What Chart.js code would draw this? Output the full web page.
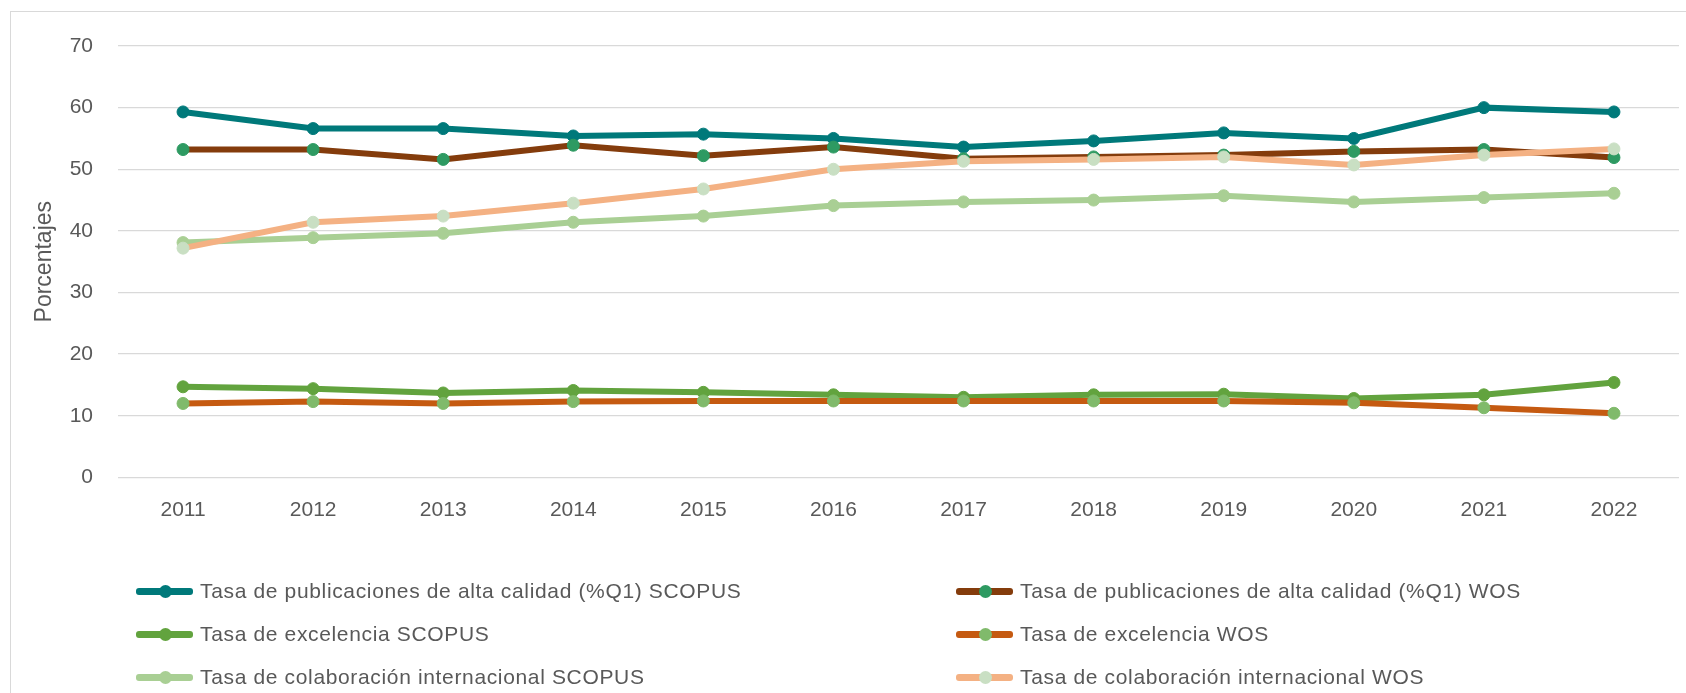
<!DOCTYPE html>
<html lang="es">
<head>
<meta charset="utf-8">
<title>Tasas de publicación SCOPUS / WOS</title>
<script src="https://cdn.jsdelivr.net/npm/chart.js@4.4.1/dist/chart.umd.min.js"></script>
<style>
  html, body { margin: 0; padding: 0; background: #fff; overflow: hidden; }
  #wrap { position: relative; width: 1686px; height: 693px; }
  #frame {
    position: absolute; left: 10px; top: 11px;
    width: 1700px; height: 700px;
    border: 1px solid #D9D9D9; box-sizing: border-box;
  }
  #chartBox { position: absolute; left: 0; top: 0; width: 1686px; height: 693px; }
  #legend { position: absolute; left: 0; top: 0; }
  .lg-item {
    position: absolute; display: flex; align-items: center; white-space: nowrap;
    font-family: "Liberation Sans", Arial, sans-serif; font-size: 21px;
    letter-spacing: 0.65px; color: #595959;
  }
  .lg-sym { position: relative; width: 57px; height: 14px; margin-right: 7px; }
  .lg-line { position: absolute; left: 0; right: 0; top: 3.5px; height: 7px; border-radius: 3px; }
  .lg-dot { position: absolute; left: 22.5px; top: 0.5px; width: 13px; height: 13px; border-radius: 50%; }
</style>
</head>
<body>
<div id="wrap">
  <div id="frame"></div>
  <div id="chartBox"><canvas id="rateChart"></canvas></div>
  <div id="legend"></div>
</div>
<script>
// Data
const years = ['2011', '2012', '2013', '2014', '2015', '2016', '2017', '2018', '2019', '2020', '2021', '2022'];
const q1Scopus = [59.3, 56.6, 56.6, 55.4, 55.7, 55.0, 53.6, 54.6, 55.9, 55.0, 60.0, 59.3];
const q1Wos = [53.2, 53.2, 51.6, 53.9, 52.2, 53.6, 51.7, 52.0, 52.3, 52.9, 53.2, 51.9];
const excelScopus = [14.7, 14.4, 13.7, 14.1, 13.8, 13.4, 13.0, 13.4, 13.5, 12.8, 13.4, 15.4];
const excelWos = [12.0, 12.3, 12.0, 12.3, 12.4, 12.4, 12.4, 12.4, 12.4, 12.1, 11.3, 10.4];
const colabScopus = [38.1, 38.9, 39.6, 41.4, 42.4, 44.1, 44.7, 45.0, 45.7, 44.7, 45.4, 46.1];
const colabWos = [37.2, 41.4, 42.4, 44.5, 46.8, 50.0, 51.3, 51.6, 52.0, 50.7, 52.3, 53.3];

const seriesNames = [
    'Tasa de publicaciones de alta calidad (%Q1) SCOPUS',
    'Tasa de publicaciones de alta calidad (%Q1) WOS',
    'Tasa de excelencia SCOPUS',
    'Tasa de excelencia WOS',
    'Tasa de colaboración internacional SCOPUS',
    'Tasa de colaboración internacional WOS'
];
const seriesValues = [q1Scopus, q1Wos, excelScopus, excelWos, colabScopus, colabWos];
const yTicks = [0, 10, 20, 30, 40, 50, 60, 70];

// Styles
const lineColors = ['#00797A', '#843C0C', '#62A33E', '#C55A11', '#A9CF94', '#F4B183'];
const markerColors = ['#00797A', '#2E9A62', '#62A33E', '#80BA6B', '#A9CF94', '#C9DFC3'];
const textGray = '#595959';
const font = '"Liberation Sans", Arial, sans-serif';

// Build datasets (later series drawn on top, as in Excel)
const datasets = seriesNames.map((name, i) => ({
    label: name,
    data: seriesValues[i],
    borderColor: lineColors[i],
    backgroundColor: markerColors[i],
    pointBackgroundColor: markerColors[i],
    pointBorderColor: markerColors[i],
    pointBorderWidth: 1,
    pointRadius: 6,
    borderWidth: 6,
    tension: 0,
    fill: false,
    order: seriesNames.length - i
}));

// HTML legend, two columns like the original
const legendPlugin = {
    id: 'htmlLegend',
    afterUpdate(chart) {
        const box = document.getElementById('legend');
        box.innerHTML = '';
        const colX = [136, 956];
        const rowY = [591, 634, 677];
        chart.data.datasets.forEach((ds, i) => {
            const item = document.createElement('div');
            item.className = 'lg-item';
            item.style.left = colX[i % 2] + 'px';
            item.style.top = (rowY[Math.floor(i / 2)] - 13) + 'px';
            item.style.height = '26px';
            const sym = document.createElement('span');
            sym.className = 'lg-sym';
            const line = document.createElement('span');
            line.className = 'lg-line';
            line.style.background = ds.borderColor;
            const dot = document.createElement('span');
            dot.className = 'lg-dot';
            dot.style.background = ds.pointBackgroundColor;
            sym.appendChild(line);
            sym.appendChild(dot);
            const txt = document.createElement('span');
            txt.textContent = ds.label;
            item.appendChild(sym);
            item.appendChild(txt);
            box.appendChild(item);
        });
    }
};

const ctx = document.getElementById('rateChart').getContext('2d');
new Chart(ctx, {
    type: 'line',
    data: { labels: years, datasets: datasets },
    options: {
        responsive: true,
        maintainAspectRatio: false,
        animation: false,
        layout: { padding: { top: 46, left: 0, right: 0, bottom: 155.6 } },
        plugins: {
            legend: { display: false },
            tooltip: { enabled: false }
        },
        scales: {
            x: {
                offset: true,
                grid: { display: false, drawTicks: false },
                border: { display: false },
                ticks: {
                    color: textGray,
                    font: { family: font, size: 21 },
                    padding: 20,
                    maxRotation: 0
                },
                afterFit(scale) { scale.height = 60; }
            },
            y: {
                min: 0,
                max: 70,
                afterBuildTicks(scale) { scale.ticks = yTicks.map(v => ({ value: v })); },
                grid: { color: '#D9D9D9', lineWidth: 1.3, drawTicks: false },
                border: { display: false },
                ticks: {
                    color: textGray,
                    font: { family: font, size: 21 },
                    padding: 25
                },
                title: {
                    display: true,
                    text: 'Porcentajes',
                    color: textGray,
                    font: { family: font, size: 23 },
                    padding: { top: 31, bottom: 0 }
                },
                afterFit(scale) { scale.width = 118; }
            }
        }
    },
    plugins: [legendPlugin]
});
</script>
</body>
</html>
